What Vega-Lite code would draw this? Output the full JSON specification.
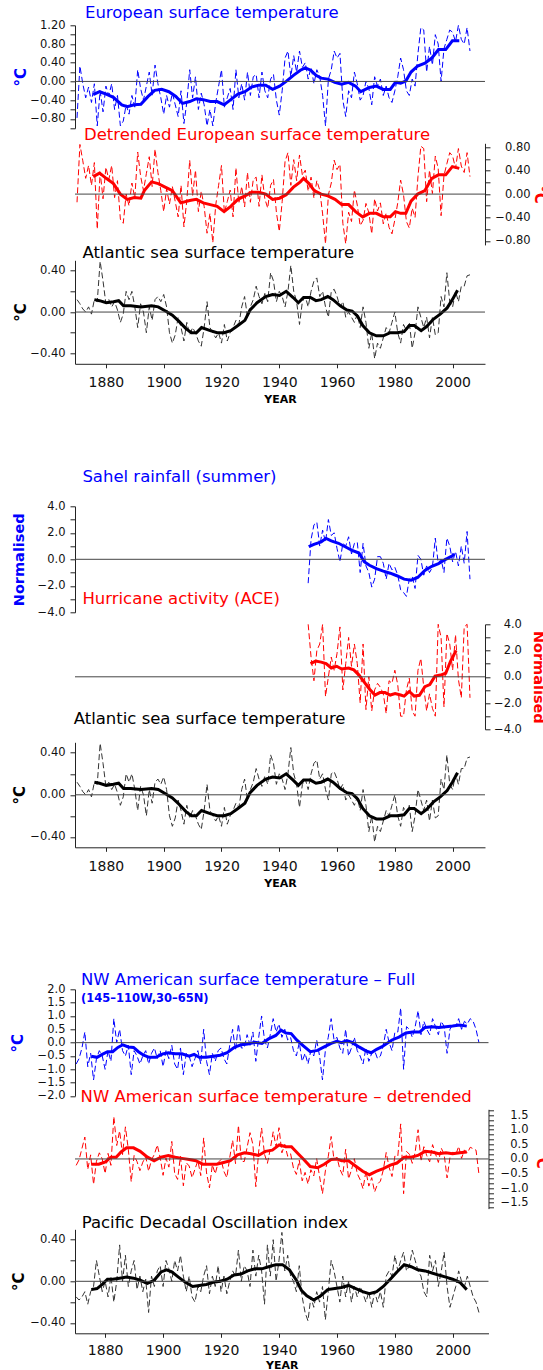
{
"$schema":"https://vega.github.io/schema/vega-lite/v6.json",
"padding":{"left":10,"top":5.3,"right":0,"bottom":0},
"background":"white",
"config":{
 "view":{"stroke":null},
 "axis":{"labelFont":"DejaVu Sans","labelFontSize":11.5,"labelColor":"#111","titleFont":"DejaVu Sans","titleFontWeight":"bold","titleFontSize":15,"domainColor":"#222","tickColor":"#222","tickSize":5,"labelPadding":5,"titlePadding":2,"grid":false,"labelOverlap":false,"labelFlush":false,"labelBound":false,"tickCount":60}
 ,"title":{"anchor":"start","frame":"group","font":"DejaVu Sans","fontSize":16.5,"fontWeight":"normal","offset":0}
},
"datasets":{
"zero":[{"v":0}],
"none":[],
"eu_a":[{"t":1870,"v":-0.78},{"t":1871,"v":0.33},{"t":1872,"v":-0.05},{"t":1873,"v":-0.35},{"t":1874,"v":-0.12},{"t":1875,"v":-0.45},{"t":1876,"v":-0.05},{"t":1877,"v":-0.95},{"t":1878,"v":-0.2},{"t":1879,"v":-0.65},{"t":1880,"v":-0.1},{"t":1881,"v":-0.3},{"t":1882,"v":-0.05},{"t":1883,"v":-0.6},{"t":1884,"v":-0.3},{"t":1885,"v":-0.95},{"t":1886,"v":-0.85},{"t":1887,"v":-0.5},{"t":1888,"v":-0.7},{"t":1889,"v":-0.3},{"t":1890,"v":-0.55},{"t":1891,"v":0.25},{"t":1892,"v":-0.15},{"t":1893,"v":-0.4},{"t":1894,"v":-0.1},{"t":1895,"v":0.2},{"t":1896,"v":-0.3},{"t":1897,"v":0.35},{"t":1898,"v":-0.05},{"t":1899,"v":-0.35},{"t":1900,"v":-0.7},{"t":1901,"v":-0.3},{"t":1902,"v":-0.55},{"t":1903,"v":-0.25},{"t":1904,"v":-0.5},{"t":1905,"v":-0.75},{"t":1906,"v":-0.2},{"t":1907,"v":-0.9},{"t":1908,"v":-0.45},{"t":1909,"v":0.25},{"t":1910,"v":-0.35},{"t":1911,"v":0.1},{"t":1912,"v":-0.6},{"t":1913,"v":-0.25},{"t":1914,"v":-0.5},{"t":1915,"v":-0.95},{"t":1916,"v":-0.6},{"t":1917,"v":-0.95},{"t":1918,"v":-0.45},{"t":1919,"v":-0.1},{"t":1920,"v":0.25},{"t":1921,"v":-0.55},{"t":1922,"v":-0.35},{"t":1923,"v":-0.15},{"t":1924,"v":-0.6},{"t":1925,"v":0.25},{"t":1926,"v":-0.35},{"t":1927,"v":-0.05},{"t":1928,"v":-0.4},{"t":1929,"v":0.2},{"t":1930,"v":-0.3},{"t":1931,"v":0.1},{"t":1932,"v":0.15},{"t":1933,"v":-0.35},{"t":1934,"v":0.2},{"t":1935,"v":-0.2},{"t":1936,"v":-0.35},{"t":1937,"v":0.05},{"t":1938,"v":0.15},{"t":1939,"v":-0.4},{"t":1940,"v":-0.72},{"t":1941,"v":-0.2},{"t":1942,"v":0.5},{"t":1943,"v":0.65},{"t":1944,"v":0.1},{"t":1945,"v":0.55},{"t":1946,"v":0.2},{"t":1947,"v":0.65},{"t":1948,"v":0.3},{"t":1949,"v":0.4},{"t":1950,"v":0.05},{"t":1951,"v":0.3},{"t":1952,"v":-0.05},{"t":1953,"v":0.25},{"t":1954,"v":0.1},{"t":1955,"v":-0.3},{"t":1956,"v":-0.95},{"t":1957,"v":0.05},{"t":1958,"v":0.25},{"t":1959,"v":0.65},{"t":1960,"v":0.5},{"t":1961,"v":0.6},{"t":1962,"v":-0.4},{"t":1963,"v":-0.75},{"t":1964,"v":-0.2},{"t":1965,"v":-0.35},{"t":1966,"v":0.2},{"t":1967,"v":-0.05},{"t":1968,"v":-0.4},{"t":1969,"v":-0.3},{"t":1970,"v":0.0},{"t":1971,"v":-0.15},{"t":1972,"v":-0.5},{"t":1973,"v":0.1},{"t":1974,"v":-0.1},{"t":1975,"v":0.05},{"t":1976,"v":-0.3},{"t":1977,"v":-0.1},{"t":1978,"v":-0.35},{"t":1979,"v":-0.45},{"t":1980,"v":-0.2},{"t":1981,"v":0.1},{"t":1982,"v":0.5},{"t":1983,"v":0.25},{"t":1984,"v":-0.2},{"t":1985,"v":-0.3},{"t":1986,"v":0.05},{"t":1987,"v":-0.1},{"t":1988,"v":0.6},{"t":1989,"v":1.15},{"t":1990,"v":1.1},{"t":1991,"v":0.2},{"t":1992,"v":0.75},{"t":1993,"v":0.35},{"t":1994,"v":1.0},{"t":1995,"v":0.8},{"t":1996,"v":0.0},{"t":1997,"v":0.7},{"t":1998,"v":0.9},{"t":1999,"v":1.1},{"t":2000,"v":1.05},{"t":2001,"v":0.85},{"t":2002,"v":1.2},{"t":2003,"v":0.9},{"t":2004,"v":0.8},{"t":2005,"v":1.15},{"t":2006,"v":0.65}],
"eu_s":[{"t":1875.6,"v":-0.28},{"t":1877.8,"v":-0.22},{"t":1880.1,"v":-0.27},{"t":1882.6,"v":-0.34},{"t":1885.5,"v":-0.5},{"t":1887.4,"v":-0.54},{"t":1889.8,"v":-0.5},{"t":1892.1,"v":-0.49},{"t":1894.6,"v":-0.32},{"t":1896.9,"v":-0.19},{"t":1899.3,"v":-0.17},{"t":1901.8,"v":-0.22},{"t":1904.2,"v":-0.32},{"t":1906.5,"v":-0.47},{"t":1909.0,"v":-0.43},{"t":1911.3,"v":-0.37},{"t":1913.7,"v":-0.39},{"t":1916.1,"v":-0.43},{"t":1918.5,"v":-0.43},{"t":1920.9,"v":-0.5},{"t":1923.2,"v":-0.39},{"t":1925.7,"v":-0.27},{"t":1928.1,"v":-0.22},{"t":1930.4,"v":-0.12},{"t":1932.9,"v":-0.08},{"t":1935.3,"v":-0.08},{"t":1937.7,"v":-0.17},{"t":1940.1,"v":-0.1},{"t":1942.4,"v":0},{"t":1944.9,"v":0.13},{"t":1947.3,"v":0.24},{"t":1949.0,"v":0.29},{"t":1950.9,"v":0.24},{"t":1952.7,"v":0.13},{"t":1954.5,"v":0.07},{"t":1956.8,"v":0.05},{"t":1959.2,"v":-0.02},{"t":1961.6,"v":-0.06},{"t":1964.0,"v":-0.02},{"t":1966.4,"v":-0.1},{"t":1968.2,"v":-0.22},{"t":1971.2,"v":-0.13},{"t":1973.6,"v":-0.1},{"t":1976.0,"v":-0.17},{"t":1978.4,"v":-0.17},{"t":1980.2,"v":-0.02},{"t":1982.0,"v":-0.04},{"t":1983.8,"v":0.01},{"t":1985.6,"v":0.2},{"t":1987.9,"v":0.33},{"t":1990.4,"v":0.39},{"t":1992.8,"v":0.5},{"t":1995.1,"v":0.68},{"t":1997.6,"v":0.68},{"t":1999.9,"v":0.87},{"t":2002.3,"v":0.87}],
"ed_a":[{"t":1870,"v":-0.14},{"t":1871,"v":0.85},{"t":1872,"v":0.57},{"t":1873,"v":0.27},{"t":1874,"v":0.49},{"t":1875,"v":0.15},{"t":1876,"v":0.54},{"t":1877,"v":-0.6},{"t":1878,"v":0.38},{"t":1879,"v":-0.08},{"t":1880,"v":0.46},{"t":1881,"v":0.25},{"t":1882,"v":0.49},{"t":1883,"v":-0.06},{"t":1884,"v":0.23},{"t":1885,"v":-0.43},{"t":1886,"v":-0.5},{"t":1887,"v":0.0},{"t":1888,"v":-0.2},{"t":1889,"v":0.19},{"t":1890,"v":-0.07},{"t":1891,"v":0.72},{"t":1892,"v":0.31},{"t":1893,"v":0.06},{"t":1894,"v":0.35},{"t":1895,"v":0.64},{"t":1896,"v":0.13},{"t":1897,"v":0.77},{"t":1898,"v":0.37},{"t":1899,"v":0.06},{"t":1900,"v":-0.3},{"t":1901,"v":0.09},{"t":1902,"v":-0.17},{"t":1903,"v":0.13},{"t":1904,"v":-0.13},{"t":1905,"v":-0.39},{"t":1906,"v":0.15},{"t":1907,"v":-0.56},{"t":1908,"v":-0.11},{"t":1909,"v":0.58},{"t":1910,"v":-0.03},{"t":1911,"v":0.41},{"t":1912,"v":-0.3},{"t":1913,"v":0.05},{"t":1914,"v":-0.21},{"t":1915,"v":-0.67},{"t":1916,"v":-0.33},{"t":1917,"v":-0.83},{"t":1918,"v":-0.19},{"t":1919,"v":0.15},{"t":1920,"v":0.49},{"t":1921,"v":-0.32},{"t":1922,"v":-0.13},{"t":1923,"v":0.07},{"t":1924,"v":-0.39},{"t":1925,"v":0.45},{"t":1926,"v":-0.16},{"t":1927,"v":0.13},{"t":1928,"v":-0.22},{"t":1929,"v":0.37},{"t":1930,"v":-0.14},{"t":1931,"v":0.25},{"t":1932,"v":0.29},{"t":1933,"v":-0.21},{"t":1934,"v":0.33},{"t":1935,"v":-0.08},{"t":1936,"v":-0.24},{"t":1937,"v":0.15},{"t":1938,"v":0.25},{"t":1939,"v":-0.31},{"t":1940,"v":-0.64},{"t":1941,"v":-0.13},{"t":1942,"v":0.56},{"t":1943,"v":0.71},{"t":1944,"v":0.15},{"t":1945,"v":0.59},{"t":1946,"v":0.23},{"t":1947,"v":0.67},{"t":1948,"v":0.32},{"t":1949,"v":0.41},{"t":1950,"v":0.05},{"t":1951,"v":0.29},{"t":1952,"v":-0.07},{"t":1953,"v":0.23},{"t":1954,"v":0.07},{"t":1955,"v":-0.34},{"t":1956,"v":-0.85},{"t":1957,"v":-0.01},{"t":1958,"v":0.19},{"t":1959,"v":0.58},{"t":1960,"v":0.42},{"t":1961,"v":0.51},{"t":1962,"v":-0.5},{"t":1963,"v":-0.85},{"t":1964,"v":-0.31},{"t":1965,"v":-0.47},{"t":1966,"v":0.07},{"t":1967,"v":-0.19},{"t":1968,"v":-0.54},{"t":1969,"v":-0.45},{"t":1970,"v":-0.16},{"t":1971,"v":-0.32},{"t":1972,"v":-0.68},{"t":1973,"v":-0.08},{"t":1974,"v":-0.29},{"t":1975,"v":-0.15},{"t":1976,"v":-0.51},{"t":1977,"v":-0.32},{"t":1978,"v":-0.57},{"t":1979,"v":-0.68},{"t":1980,"v":-0.44},{"t":1981,"v":-0.15},{"t":1982,"v":0.24},{"t":1983,"v":-0.01},{"t":1984,"v":-0.47},{"t":1985,"v":-0.58},{"t":1986,"v":-0.24},{"t":1987,"v":-0.4},{"t":1988,"v":0.3},{"t":1989,"v":0.82},{"t":1990,"v":0.78},{"t":1991,"v":-0.13},{"t":1992,"v":0.41},{"t":1993,"v":0.01},{"t":1994,"v":0.65},{"t":1995,"v":0.44},{"t":1996,"v":-0.37},{"t":1997,"v":0.32},{"t":1998,"v":0.52},{"t":1999,"v":0.71},{"t":2000,"v":0.65},{"t":2001,"v":0.44},{"t":2002,"v":0.78},{"t":2003,"v":0.48},{"t":2004,"v":0.37},{"t":2005,"v":0.71},{"t":2006,"v":0.3}],
"ed_s":[{"t":1875.6,"v":0.3},{"t":1877.8,"v":0.36},{"t":1880.1,"v":0.27},{"t":1882.6,"v":0.18},{"t":1885.0,"v":0},{"t":1887.4,"v":-0.09},{"t":1889.8,"v":-0.06},{"t":1892.1,"v":-0.07},{"t":1893.3,"v":0.06},{"t":1895.8,"v":0.21},{"t":1898.1,"v":0.18},{"t":1900.5,"v":0.12},{"t":1903.0,"v":0.06},{"t":1905.9,"v":-0.15},{"t":1909.0,"v":-0.11},{"t":1911.3,"v":-0.09},{"t":1913.7,"v":-0.15},{"t":1916.1,"v":-0.18},{"t":1918.5,"v":-0.21},{"t":1920.9,"v":-0.3},{"t":1923.2,"v":-0.21},{"t":1925.7,"v":-0.09},{"t":1928.1,"v":-0.03},{"t":1930.4,"v":0.03},{"t":1932.9,"v":0.03},{"t":1935.3,"v":0},{"t":1937.7,"v":-0.09},{"t":1940.1,"v":-0.07},{"t":1942.4,"v":-0.01},{"t":1944.9,"v":0.12},{"t":1947.3,"v":0.21},{"t":1948.4,"v":0.27},{"t":1950.3,"v":0.18},{"t":1952.1,"v":0.06},{"t":1954.5,"v":0},{"t":1956.8,"v":-0.03},{"t":1959.3,"v":-0.09},{"t":1961.6,"v":-0.18},{"t":1964.0,"v":-0.18},{"t":1966.4,"v":-0.3},{"t":1968.9,"v":-0.39},{"t":1971.2,"v":-0.33},{"t":1973.6,"v":-0.33},{"t":1976.0,"v":-0.39},{"t":1978.4,"v":-0.39},{"t":1980.2,"v":-0.3},{"t":1982.0,"v":-0.33},{"t":1983.8,"v":-0.33},{"t":1985.6,"v":-0.12},{"t":1987.9,"v":0},{"t":1990.4,"v":0.06},{"t":1992.8,"v":0.27},{"t":1995.1,"v":0.33},{"t":1997.6,"v":0.33},{"t":1999.9,"v":0.47},{"t":2002.3,"v":0.44}],
"at_a":[{"t":1870,"v":0.12},{"t":1871,"v":0.08},{"t":1872,"v":0.03},{"t":1873,"v":0.0},{"t":1874,"v":0.05},{"t":1875,"v":-0.02},{"t":1876,"v":0.12},{"t":1877,"v":0.1},{"t":1878,"v":0.49},{"t":1879,"v":0.3},{"t":1880,"v":0.08},{"t":1881,"v":0.12},{"t":1882,"v":0.05},{"t":1883,"v":0.1},{"t":1884,"v":0.02},{"t":1885,"v":-0.1},{"t":1886,"v":-0.02},{"t":1887,"v":0.2},{"t":1888,"v":0.12},{"t":1889,"v":0.2},{"t":1890,"v":0.05},{"t":1891,"v":-0.15},{"t":1892,"v":0.08},{"t":1893,"v":0.0},{"t":1894,"v":-0.2},{"t":1895,"v":0.05},{"t":1896,"v":-0.08},{"t":1897,"v":0.12},{"t":1898,"v":0.15},{"t":1899,"v":0.1},{"t":1900,"v":0.17},{"t":1901,"v":0.05},{"t":1902,"v":-0.2},{"t":1903,"v":-0.3},{"t":1904,"v":-0.22},{"t":1905,"v":-0.05},{"t":1906,"v":-0.15},{"t":1907,"v":-0.28},{"t":1908,"v":-0.1},{"t":1909,"v":-0.22},{"t":1910,"v":-0.15},{"t":1911,"v":-0.2},{"t":1912,"v":-0.28},{"t":1913,"v":-0.33},{"t":1914,"v":-0.15},{"t":1915,"v":0.1},{"t":1916,"v":-0.15},{"t":1917,"v":-0.2},{"t":1918,"v":-0.25},{"t":1919,"v":-0.2},{"t":1920,"v":-0.3},{"t":1921,"v":-0.12},{"t":1922,"v":-0.28},{"t":1923,"v":-0.2},{"t":1924,"v":-0.15},{"t":1925,"v":-0.08},{"t":1926,"v":-0.12},{"t":1927,"v":0.05},{"t":1928,"v":0.15},{"t":1929,"v":-0.05},{"t":1930,"v":0.05},{"t":1931,"v":0.12},{"t":1932,"v":0.25},{"t":1933,"v":0.15},{"t":1934,"v":0.08},{"t":1935,"v":0.18},{"t":1936,"v":0.1},{"t":1937,"v":0.38},{"t":1938,"v":0.3},{"t":1939,"v":0.1},{"t":1940,"v":0.2},{"t":1941,"v":0.15},{"t":1942,"v":0.05},{"t":1943,"v":0.2},{"t":1944,"v":0.45},{"t":1945,"v":0.2},{"t":1946,"v":0.1},{"t":1947,"v":-0.12},{"t":1948,"v":0.1},{"t":1949,"v":0.15},{"t":1950,"v":0.05},{"t":1951,"v":0.2},{"t":1952,"v":0.3},{"t":1953,"v":0.33},{"t":1954,"v":0.15},{"t":1955,"v":0.2},{"t":1956,"v":0.05},{"t":1957,"v":-0.05},{"t":1958,"v":0.2},{"t":1959,"v":0.22},{"t":1960,"v":0.15},{"t":1961,"v":0.05},{"t":1962,"v":0.1},{"t":1963,"v":-0.05},{"t":1964,"v":0.0},{"t":1965,"v":-0.05},{"t":1966,"v":-0.1},{"t":1967,"v":-0.02},{"t":1968,"v":-0.15},{"t":1969,"v":0.05},{"t":1970,"v":-0.1},{"t":1971,"v":-0.35},{"t":1972,"v":-0.2},{"t":1973,"v":-0.45},{"t":1974,"v":-0.3},{"t":1975,"v":-0.35},{"t":1976,"v":-0.25},{"t":1977,"v":-0.15},{"t":1978,"v":-0.2},{"t":1979,"v":-0.1},{"t":1980,"v":0.0},{"t":1981,"v":-0.2},{"t":1982,"v":-0.3},{"t":1983,"v":-0.12},{"t":1984,"v":-0.18},{"t":1985,"v":-0.1},{"t":1986,"v":-0.35},{"t":1987,"v":-0.2},{"t":1988,"v":0.05},{"t":1989,"v":-0.05},{"t":1990,"v":-0.15},{"t":1991,"v":-0.05},{"t":1992,"v":-0.25},{"t":1993,"v":-0.05},{"t":1994,"v":-0.22},{"t":1995,"v":-0.2},{"t":1996,"v":0.15},{"t":1997,"v":0.05},{"t":1998,"v":0.38},{"t":1999,"v":0.1},{"t":2000,"v":0.05},{"t":2001,"v":0.2},{"t":2002,"v":0.1},{"t":2003,"v":0.25},{"t":2004,"v":0.25},{"t":2005,"v":0.35},{"t":2006,"v":0.36}],
"at_s":[{"t":1876.0,"v":0.12},{"t":1877.8,"v":0.11},{"t":1880.1,"v":0.09},{"t":1882.6,"v":0.1},{"t":1884.4,"v":0.11},{"t":1886.1,"v":0.06},{"t":1888.6,"v":0.06},{"t":1892.1,"v":0.05},{"t":1895.8,"v":0.06},{"t":1898.1,"v":0.05},{"t":1900.6,"v":0.01},{"t":1903.0,"v":-0.03},{"t":1905.3,"v":-0.09},{"t":1907.7,"v":-0.16},{"t":1909.6,"v":-0.2},{"t":1911.3,"v":-0.2},{"t":1913.1,"v":-0.15},{"t":1916.1,"v":-0.18},{"t":1918.5,"v":-0.2},{"t":1920.9,"v":-0.2},{"t":1923.2,"v":-0.18},{"t":1925.7,"v":-0.13},{"t":1928.1,"v":-0.08},{"t":1929.9,"v":0.02},{"t":1932.3,"v":0.09},{"t":1935.3,"v":0.15},{"t":1937.7,"v":0.17},{"t":1940.1,"v":0.16},{"t":1942.4,"v":0.2},{"t":1944.8,"v":0.14},{"t":1946.6,"v":0.09},{"t":1948.4,"v":0.14},{"t":1950.8,"v":0.14},{"t":1952.7,"v":0.11},{"t":1954.5,"v":0.12},{"t":1956.8,"v":0.15},{"t":1958.6,"v":0.12},{"t":1961.1,"v":0.06},{"t":1963.4,"v":0.02},{"t":1965.2,"v":0.01},{"t":1967.1,"v":-0.04},{"t":1968.9,"v":-0.13},{"t":1971.2,"v":-0.2},{"t":1973.6,"v":-0.23},{"t":1976.0,"v":-0.23},{"t":1978.4,"v":-0.2},{"t":1980.7,"v":-0.2},{"t":1983.2,"v":-0.19},{"t":1985.0,"v":-0.13},{"t":1986.7,"v":-0.13},{"t":1989.1,"v":-0.18},{"t":1991.0,"v":-0.14},{"t":1993.3,"v":-0.07},{"t":1995.7,"v":-0.02},{"t":1998.1,"v":0.04},{"t":1999.9,"v":0.12},{"t":2001.7,"v":0.21}],
"sa_a":[{"t":1950,"v":-1.8},{"t":1951,"v":1.5},{"t":1952,"v":2.6},{"t":1953,"v":2.8},{"t":1954,"v":1.0},{"t":1955,"v":2.2},{"t":1956,"v":1.3},{"t":1957,"v":3.0},{"t":1958,"v":1.8},{"t":1959,"v":2.0},{"t":1960,"v":0.8},{"t":1961,"v":-0.2},{"t":1962,"v":1.2},{"t":1963,"v":1.0},{"t":1964,"v":1.7},{"t":1965,"v":0.4},{"t":1966,"v":1.2},{"t":1967,"v":1.3},{"t":1968,"v":-1.0},{"t":1969,"v":1.2},{"t":1970,"v":-0.5},{"t":1971,"v":-1.0},{"t":1972,"v":-2.1},{"t":1973,"v":-1.5},{"t":1974,"v":0.2},{"t":1975,"v":0.2},{"t":1976,"v":-0.3},{"t":1977,"v":-1.5},{"t":1978,"v":-0.3},{"t":1979,"v":-0.8},{"t":1980,"v":-0.6},{"t":1981,"v":-1.2},{"t":1982,"v":-2.3},{"t":1983,"v":-2.5},{"t":1984,"v":-2.8},{"t":1985,"v":-1.5},{"t":1986,"v":-1.3},{"t":1987,"v":-2.2},{"t":1988,"v":0.3},{"t":1989,"v":0.0},{"t":1990,"v":-1.2},{"t":1991,"v":-0.5},{"t":1992,"v":-1.0},{"t":1993,"v":-0.6},{"t":1994,"v":1.6},{"t":1995,"v":-0.3},{"t":1996,"v":0.0},{"t":1997,"v":-1.0},{"t":1998,"v":1.6},{"t":1999,"v":1.0},{"t":2000,"v":-0.2},{"t":2001,"v":0.6},{"t":2002,"v":-0.5},{"t":2003,"v":1.0},{"t":2004,"v":-0.3},{"t":2005,"v":2.1},{"t":2006,"v":-1.5}],
"sa_s":[{"t":1950.2,"v":0.95},{"t":1952.0,"v":1.13},{"t":1954.5,"v":1.32},{"t":1956.2,"v":1.58},{"t":1958.0,"v":1.39},{"t":1960.5,"v":1.21},{"t":1962.8,"v":0.95},{"t":1965.2,"v":0.68},{"t":1967.6,"v":0.47},{"t":1969.4,"v":-0.18},{"t":1971.2,"v":-0.45},{"t":1973.6,"v":-0.71},{"t":1976.0,"v":-0.89},{"t":1978.4,"v":-1.05},{"t":1980.7,"v":-1.24},{"t":1983.2,"v":-1.5},{"t":1985.6,"v":-1.58},{"t":1987.9,"v":-1.37},{"t":1990.4,"v":-0.84},{"t":1992.8,"v":-0.53},{"t":1995.1,"v":-0.32},{"t":1997.6,"v":0},{"t":1999.9,"v":0.26},{"t":2000.5,"v":0.42}],
"ac_a":[{"t":1950,"v":4.0},{"t":1951,"v":1.5},{"t":1952,"v":-0.3},{"t":1953,"v":2.0},{"t":1954,"v":2.5},{"t":1955,"v":4.0},{"t":1956,"v":-1.5},{"t":1957,"v":0.0},{"t":1958,"v":1.5},{"t":1959,"v":0.5},{"t":1960,"v":1.8},{"t":1961,"v":3.8},{"t":1962,"v":-1.0},{"t":1963,"v":1.0},{"t":1964,"v":3.0},{"t":1965,"v":0.8},{"t":1966,"v":2.5},{"t":1967,"v":1.0},{"t":1968,"v":-2.0},{"t":1969,"v":2.5},{"t":1970,"v":-2.5},{"t":1971,"v":0.0},{"t":1972,"v":-2.6},{"t":1973,"v":-1.0},{"t":1974,"v":-0.5},{"t":1975,"v":-0.8},{"t":1976,"v":-1.3},{"t":1977,"v":-2.8},{"t":1978,"v":-0.3},{"t":1979,"v":-0.5},{"t":1980,"v":0.5},{"t":1981,"v":-0.6},{"t":1982,"v":-3.0},{"t":1983,"v":-3.0},{"t":1984,"v":-1.0},{"t":1985,"v":-0.1},{"t":1986,"v":-2.6},{"t":1987,"v":-3.0},{"t":1988,"v":0.5},{"t":1989,"v":1.4},{"t":1990,"v":-0.8},{"t":1991,"v":-2.6},{"t":1992,"v":-1.3},{"t":1993,"v":-2.4},{"t":1994,"v":-3.0},{"t":1995,"v":4.0},{"t":1996,"v":3.0},{"t":1997,"v":-2.3},{"t":1998,"v":3.3},{"t":1999,"v":2.5},{"t":2000,"v":0.5},{"t":2001,"v":3.2},{"t":2002,"v":-0.2},{"t":2003,"v":-1.6},{"t":2004,"v":3.8},{"t":2005,"v":4.0},{"t":2006,"v":-1.6}],
"ac_s":[{"t":1950.8,"v":1.01},{"t":1952.6,"v":1.2},{"t":1954.5,"v":1.12},{"t":1956.2,"v":1.01},{"t":1958.0,"v":0.67},{"t":1959.9,"v":0.8},{"t":1961.6,"v":0.59},{"t":1964.0,"v":0.67},{"t":1965.8,"v":0.53},{"t":1967.6,"v":0.13},{"t":1969.4,"v":-0.4},{"t":1971.2,"v":-0.93},{"t":1973.1,"v":-1.39},{"t":1974.8,"v":-1.2},{"t":1976.6,"v":-1.2},{"t":1978.4,"v":-1.39},{"t":1980.1,"v":-1.28},{"t":1982.0,"v":-1.39},{"t":1983.2,"v":-1.47},{"t":1985.0,"v":-1.12},{"t":1986.7,"v":-1.47},{"t":1988.5,"v":-1.41},{"t":1990.4,"v":-0.75},{"t":1992.1,"v":-0.59},{"t":1993.9,"v":0.05},{"t":1995.8,"v":0.13},{"t":1997.6,"v":0.27},{"t":1999.3,"v":1.2},{"t":2001.2,"v":2.0}],
"nw_a":[{"t":1870,"v":-0.8},{"t":1871,"v":-0.6},{"t":1872,"v":-0.2},{"t":1873,"v":0.4},{"t":1874,"v":-0.9},{"t":1875,"v":-0.4},{"t":1876,"v":-1.4},{"t":1877,"v":-0.6},{"t":1878,"v":-0.3},{"t":1879,"v":-0.5},{"t":1880,"v":-1.0},{"t":1881,"v":-0.3},{"t":1882,"v":-0.7},{"t":1883,"v":0.9},{"t":1884,"v":0.0},{"t":1885,"v":0.5},{"t":1886,"v":-0.3},{"t":1887,"v":-0.5},{"t":1888,"v":-0.1},{"t":1889,"v":-1.2},{"t":1890,"v":-0.3},{"t":1891,"v":-0.5},{"t":1892,"v":-0.8},{"t":1893,"v":-0.5},{"t":1894,"v":-0.3},{"t":1895,"v":-0.8},{"t":1896,"v":-0.4},{"t":1897,"v":-0.2},{"t":1898,"v":-0.6},{"t":1899,"v":-0.3},{"t":1900,"v":-0.9},{"t":1901,"v":-0.3},{"t":1902,"v":-0.6},{"t":1903,"v":-0.1},{"t":1904,"v":-0.8},{"t":1905,"v":-1.0},{"t":1906,"v":-0.2},{"t":1907,"v":-1.2},{"t":1908,"v":-0.4},{"t":1909,"v":-0.5},{"t":1910,"v":-0.9},{"t":1911,"v":-0.6},{"t":1912,"v":-0.3},{"t":1913,"v":-0.8},{"t":1914,"v":0.5},{"t":1915,"v":-0.7},{"t":1916,"v":-1.2},{"t":1917,"v":-0.4},{"t":1918,"v":-0.7},{"t":1919,"v":-0.3},{"t":1920,"v":-0.2},{"t":1921,"v":-0.6},{"t":1922,"v":-0.8},{"t":1923,"v":-0.1},{"t":1924,"v":0.5},{"t":1925,"v":-0.3},{"t":1926,"v":0.7},{"t":1927,"v":-0.2},{"t":1928,"v":-0.2},{"t":1929,"v":0.3},{"t":1930,"v":-0.1},{"t":1931,"v":0.4},{"t":1932,"v":-0.7},{"t":1933,"v":0.2},{"t":1934,"v":1.0},{"t":1935,"v":0.1},{"t":1936,"v":-0.2},{"t":1937,"v":0.3},{"t":1938,"v":0.9},{"t":1939,"v":0.4},{"t":1940,"v":0.7},{"t":1941,"v":0.2},{"t":1942,"v":0.5},{"t":1943,"v":0.1},{"t":1944,"v":0.2},{"t":1945,"v":-0.3},{"t":1946,"v":-0.5},{"t":1947,"v":0.0},{"t":1948,"v":-0.7},{"t":1949,"v":-0.4},{"t":1950,"v":-0.8},{"t":1951,"v":-0.3},{"t":1952,"v":-0.5},{"t":1953,"v":0.1},{"t":1954,"v":-0.5},{"t":1955,"v":-1.4},{"t":1956,"v":-0.3},{"t":1957,"v":0.2},{"t":1958,"v":0.9},{"t":1959,"v":0.1},{"t":1960,"v":0.2},{"t":1961,"v":-0.2},{"t":1962,"v":-0.4},{"t":1963,"v":0.5},{"t":1964,"v":-0.5},{"t":1965,"v":-0.2},{"t":1966,"v":0.2},{"t":1967,"v":-0.3},{"t":1968,"v":-0.5},{"t":1969,"v":-0.8},{"t":1970,"v":-0.2},{"t":1971,"v":-0.7},{"t":1972,"v":-0.4},{"t":1973,"v":-0.3},{"t":1974,"v":-0.6},{"t":1975,"v":-0.5},{"t":1976,"v":-0.1},{"t":1977,"v":0.5},{"t":1978,"v":0.0},{"t":1979,"v":-0.3},{"t":1980,"v":0.4},{"t":1981,"v":0.4},{"t":1982,"v":1.3},{"t":1983,"v":-1.0},{"t":1984,"v":0.6},{"t":1985,"v":0.5},{"t":1986,"v":0.2},{"t":1987,"v":0.6},{"t":1988,"v":1.2},{"t":1989,"v":0.3},{"t":1990,"v":0.8},{"t":1991,"v":0.5},{"t":1992,"v":0.3},{"t":1993,"v":0.9},{"t":1994,"v":0.6},{"t":1995,"v":0.3},{"t":1996,"v":0.8},{"t":1997,"v":0.6},{"t":1998,"v":-0.4},{"t":1999,"v":0.5},{"t":2000,"v":0.7},{"t":2001,"v":0.6},{"t":2002,"v":0.9},{"t":2003,"v":0.5},{"t":2004,"v":0.8},{"t":2005,"v":0.7},{"t":2006,"v":0.9},{"t":2007,"v":0.8},{"t":2008,"v":0.5},{"t":2009,"v":0.0}],
"nw_s":[{"t":1875.2,"v":-0.51},{"t":1877.2,"v":-0.55},{"t":1879.0,"v":-0.44},{"t":1880.8,"v":-0.34},{"t":1882.6,"v":-0.34},{"t":1884.4,"v":-0.18},{"t":1886.1,"v":-0.08},{"t":1888.0,"v":-0.16},{"t":1889.8,"v":-0.18},{"t":1891.5,"v":-0.34},{"t":1893.3,"v":-0.47},{"t":1895.2,"v":-0.55},{"t":1897.5,"v":-0.55},{"t":1899.9,"v":-0.42},{"t":1901.8,"v":-0.38},{"t":1904.2,"v":-0.42},{"t":1906.5,"v":-0.42},{"t":1909.0,"v":-0.51},{"t":1910.7,"v":-0.44},{"t":1912.5,"v":-0.55},{"t":1914.9,"v":-0.55},{"t":1917.3,"v":-0.51},{"t":1919.7,"v":-0.47},{"t":1922.1,"v":-0.38},{"t":1924.5,"v":-0.18},{"t":1926.9,"v":-0.08},{"t":1929.2,"v":-0.05},{"t":1931.7,"v":0.01},{"t":1934.1,"v":-0.03},{"t":1936.4,"v":0.14},{"t":1938.9,"v":0.27},{"t":1940.7,"v":0.47},{"t":1942.4,"v":0.36},{"t":1944.2,"v":0.34},{"t":1946.1,"v":0.1},{"t":1948.4,"v":-0.12},{"t":1950.8,"v":-0.34},{"t":1953.3,"v":-0.29},{"t":1955.6,"v":-0.16},{"t":1958.0,"v":-0.03},{"t":1959.9,"v":0.05},{"t":1961.6,"v":0},{"t":1963.4,"v":0.08},{"t":1965.2,"v":0.01},{"t":1967.6,"v":-0.16},{"t":1970.0,"v":-0.31},{"t":1971.8,"v":-0.38},{"t":1973.7,"v":-0.25},{"t":1975.4,"v":-0.16},{"t":1977.2,"v":-0.03},{"t":1979.0,"v":0.1},{"t":1981.4,"v":0.21},{"t":1983.8,"v":0.36},{"t":1986.1,"v":0.4},{"t":1988.6,"v":0.4},{"t":1990.4,"v":0.57},{"t":1992.8,"v":0.6},{"t":1995.1,"v":0.57},{"t":1997.6,"v":0.6},{"t":1999.9,"v":0.62},{"t":2002.4,"v":0.66},{"t":2004.8,"v":0.62}],
"nd_a":[{"t":1870,"v":-0.22},{"t":1871,"v":-0.03},{"t":1872,"v":0.36},{"t":1873,"v":0.75},{"t":1874,"v":-0.36},{"t":1875,"v":0.14},{"t":1876,"v":-0.87},{"t":1877,"v":-0.08},{"t":1878,"v":0.21},{"t":1879,"v":0.0},{"t":1880,"v":-0.5},{"t":1881,"v":0.19},{"t":1882,"v":-0.22},{"t":1883,"v":1.45},{"t":1884,"v":0.46},{"t":1885,"v":0.96},{"t":1886,"v":0.15},{"t":1887,"v":1.1},{"t":1888,"v":0.33},{"t":1889,"v":-0.78},{"t":1890,"v":0.12},{"t":1891,"v":-0.09},{"t":1892,"v":-0.4},{"t":1893,"v":-0.11},{"t":1894,"v":0.08},{"t":1895,"v":-0.42},{"t":1896,"v":-0.03},{"t":1897,"v":0.16},{"t":1898,"v":0.48},{"t":1899,"v":0.04},{"t":1900,"v":-0.56},{"t":1901,"v":0.03},{"t":1902,"v":-0.28},{"t":1903,"v":0.6},{"t":1904,"v":-0.5},{"t":1905,"v":-0.7},{"t":1906,"v":0.09},{"t":1907,"v":-0.92},{"t":1908,"v":-0.13},{"t":1909,"v":-0.24},{"t":1910,"v":-0.64},{"t":1911,"v":-0.35},{"t":1912,"v":-0.06},{"t":1913,"v":-0.57},{"t":1914,"v":0.72},{"t":1915,"v":-0.48},{"t":1916,"v":-0.99},{"t":1917,"v":-0.2},{"t":1918,"v":-0.51},{"t":1919,"v":-0.12},{"t":1920,"v":-0.02},{"t":1921,"v":-0.43},{"t":1922,"v":-0.64},{"t":1923,"v":0.05},{"t":1924,"v":0.64},{"t":1925,"v":-0.16},{"t":1926,"v":1.15},{"t":1927,"v":-0.08},{"t":1928,"v":-0.09},{"t":1929,"v":0.4},{"t":1930,"v":0.9},{"t":1931,"v":0.49},{"t":1932,"v":-0.95},{"t":1933,"v":0.27},{"t":1934,"v":1.06},{"t":1935,"v":0.16},{"t":1936,"v":-0.15},{"t":1937,"v":0.34},{"t":1938,"v":0.93},{"t":1939,"v":0.42},{"t":1940,"v":1.07},{"t":1941,"v":0.21},{"t":1942,"v":0.5},{"t":1943,"v":0.09},{"t":1944,"v":0.18},{"t":1945,"v":-0.32},{"t":1946,"v":-0.53},{"t":1947,"v":-0.04},{"t":1948,"v":-0.75},{"t":1949,"v":-0.46},{"t":1950,"v":-0.86},{"t":1951,"v":-0.37},{"t":1952,"v":-0.58},{"t":1953,"v":0.01},{"t":1954,"v":-0.6},{"t":1955,"v":-1.19},{"t":1956,"v":-0.41},{"t":1957,"v":0.08},{"t":1958,"v":0.77},{"t":1959,"v":-0.04},{"t":1960,"v":0.06},{"t":1961,"v":-0.35},{"t":1962,"v":-0.56},{"t":1963,"v":0.33},{"t":1964,"v":-0.68},{"t":1965,"v":-0.38},{"t":1966,"v":0.01},{"t":1967,"v":-0.5},{"t":1968,"v":-0.71},{"t":1969,"v":-1.02},{"t":1970,"v":-0.42},{"t":1971,"v":-0.93},{"t":1972,"v":-0.64},{"t":1973,"v":-1.13},{"t":1974,"v":-0.86},{"t":1975,"v":-0.76},{"t":1976,"v":-0.37},{"t":1977,"v":0.22},{"t":1978,"v":-0.29},{"t":1979,"v":-0.6},{"t":1980,"v":0.1},{"t":1981,"v":0.09},{"t":1982,"v":1.2},{"t":1983,"v":-1.19},{"t":1984,"v":0.26},{"t":1985,"v":0.16},{"t":1986,"v":-0.15},{"t":1987,"v":0.24},{"t":1988,"v":1.0},{"t":1989,"v":-0.08},{"t":1990,"v":0.42},{"t":1991,"v":0.11},{"t":1992,"v":-0.1},{"t":1993,"v":0.49},{"t":1994,"v":0.18},{"t":1995,"v":-0.12},{"t":1996,"v":0.37},{"t":1997,"v":0.16},{"t":1998,"v":-0.65},{"t":1999,"v":0.05},{"t":2000,"v":0.24},{"t":2001,"v":0.14},{"t":2002,"v":0.43},{"t":2003,"v":0.02},{"t":2004,"v":0.31},{"t":2005,"v":0.2},{"t":2006,"v":0.4},{"t":2007,"v":0.35},{"t":2008,"v":0.3},{"t":2009,"v":-0.52}],
"nd_s":[{"t":1875.2,"v":-0.18},{"t":1877.8,"v":-0.18},{"t":1880.1,"v":-0.1},{"t":1882.0,"v":0.06},{"t":1883.8,"v":0.06},{"t":1885.5,"v":0.24},{"t":1887.4,"v":0.38},{"t":1889.8,"v":0.38},{"t":1892.1,"v":0.26},{"t":1894.6,"v":0.06},{"t":1896.9,"v":-0.06},{"t":1899.3,"v":0.06},{"t":1901.8,"v":0.12},{"t":1904.2,"v":0.06},{"t":1906.5,"v":0.02},{"t":1909.0,"v":-0.02},{"t":1911.3,"v":-0.06},{"t":1913.7,"v":-0.18},{"t":1916.1,"v":-0.18},{"t":1918.5,"v":-0.18},{"t":1920.9,"v":-0.12},{"t":1923.2,"v":-0.06},{"t":1925.7,"v":0.14},{"t":1928.1,"v":0.21},{"t":1930.4,"v":0.18},{"t":1932.9,"v":0.12},{"t":1935.3,"v":0.26},{"t":1937.7,"v":0.3},{"t":1940.1,"v":0.48},{"t":1942.4,"v":0.42},{"t":1944.3,"v":0.42},{"t":1946.6,"v":0.18},{"t":1948.4,"v":0},{"t":1950.8,"v":-0.26},{"t":1953.3,"v":-0.3},{"t":1955.6,"v":-0.18},{"t":1958.0,"v":-0.02},{"t":1959.9,"v":0},{"t":1961.6,"v":-0.06},{"t":1964.0,"v":-0.06},{"t":1966.4,"v":-0.24},{"t":1968.9,"v":-0.42},{"t":1971.2,"v":-0.54},{"t":1973.7,"v":-0.42},{"t":1976.0,"v":-0.33},{"t":1978.4,"v":-0.21},{"t":1980.7,"v":-0.14},{"t":1983.2,"v":0.06},{"t":1985.6,"v":0.06},{"t":1987.9,"v":0.12},{"t":1990.4,"v":0.26},{"t":1992.8,"v":0.24},{"t":1995.1,"v":0.18},{"t":1997.6,"v":0.21},{"t":1999.9,"v":0.18},{"t":2002.4,"v":0.21},{"t":2004.8,"v":0.24}],
"pd_a":[{"t":1870,"v":-0.15},{"t":1871,"v":-0.18},{"t":1872,"v":-0.15},{"t":1873,"v":-0.1},{"t":1874,"v":-0.22},{"t":1875,"v":-0.1},{"t":1876,"v":-0.05},{"t":1877,"v":0.2},{"t":1878,"v":0.05},{"t":1879,"v":-0.1},{"t":1880,"v":0.0},{"t":1881,"v":-0.15},{"t":1882,"v":0.05},{"t":1883,"v":-0.2},{"t":1884,"v":0.0},{"t":1885,"v":0.35},{"t":1886,"v":0.0},{"t":1887,"v":0.25},{"t":1888,"v":-0.05},{"t":1889,"v":0.1},{"t":1890,"v":0.2},{"t":1891,"v":-0.08},{"t":1892,"v":0.05},{"t":1893,"v":-0.1},{"t":1894,"v":0.02},{"t":1895,"v":-0.3},{"t":1896,"v":0.05},{"t":1897,"v":-0.05},{"t":1898,"v":0.1},{"t":1899,"v":0.15},{"t":1900,"v":-0.05},{"t":1901,"v":0.2},{"t":1902,"v":0.12},{"t":1903,"v":0.0},{"t":1904,"v":0.2},{"t":1905,"v":0.1},{"t":1906,"v":0.25},{"t":1907,"v":0.05},{"t":1908,"v":-0.1},{"t":1909,"v":0.05},{"t":1910,"v":-0.15},{"t":1911,"v":-0.2},{"t":1912,"v":-0.05},{"t":1913,"v":-0.1},{"t":1914,"v":0.05},{"t":1915,"v":0.15},{"t":1916,"v":-0.12},{"t":1917,"v":0.05},{"t":1918,"v":-0.05},{"t":1919,"v":0.15},{"t":1920,"v":-0.1},{"t":1921,"v":0.05},{"t":1922,"v":-0.12},{"t":1923,"v":0.0},{"t":1924,"v":0.1},{"t":1925,"v":0.05},{"t":1926,"v":0.3},{"t":1927,"v":0.0},{"t":1928,"v":0.15},{"t":1929,"v":0.1},{"t":1930,"v":-0.05},{"t":1931,"v":0.3},{"t":1932,"v":0.05},{"t":1933,"v":0.25},{"t":1934,"v":0.1},{"t":1935,"v":-0.22},{"t":1936,"v":0.35},{"t":1937,"v":0.05},{"t":1938,"v":0.4},{"t":1939,"v":0.0},{"t":1940,"v":0.2},{"t":1941,"v":0.47},{"t":1942,"v":0.1},{"t":1943,"v":0.25},{"t":1944,"v":0.05},{"t":1945,"v":0.0},{"t":1946,"v":-0.1},{"t":1947,"v":0.15},{"t":1948,"v":-0.15},{"t":1949,"v":-0.3},{"t":1950,"v":-0.38},{"t":1951,"v":-0.15},{"t":1952,"v":-0.25},{"t":1953,"v":-0.1},{"t":1954,"v":-0.2},{"t":1955,"v":-0.05},{"t":1956,"v":-0.37},{"t":1957,"v":-0.1},{"t":1958,"v":0.2},{"t":1959,"v":0.1},{"t":1960,"v":-0.05},{"t":1961,"v":-0.2},{"t":1962,"v":0.05},{"t":1963,"v":-0.15},{"t":1964,"v":0.0},{"t":1965,"v":-0.2},{"t":1966,"v":-0.05},{"t":1967,"v":-0.15},{"t":1968,"v":-0.05},{"t":1969,"v":-0.12},{"t":1970,"v":-0.2},{"t":1971,"v":-0.1},{"t":1972,"v":-0.25},{"t":1973,"v":-0.1},{"t":1974,"v":-0.2},{"t":1975,"v":-0.1},{"t":1976,"v":-0.25},{"t":1977,"v":0.05},{"t":1978,"v":0.1},{"t":1979,"v":0.05},{"t":1980,"v":0.25},{"t":1981,"v":0.1},{"t":1982,"v":0.2},{"t":1983,"v":0.28},{"t":1984,"v":0.1},{"t":1985,"v":0.15},{"t":1986,"v":0.3},{"t":1987,"v":0.2},{"t":1988,"v":0.1},{"t":1989,"v":0.05},{"t":1990,"v":-0.1},{"t":1991,"v":-0.15},{"t":1992,"v":0.25},{"t":1993,"v":0.1},{"t":1994,"v":0.2},{"t":1995,"v":-0.05},{"t":1996,"v":0.1},{"t":1997,"v":0.28},{"t":1998,"v":-0.05},{"t":1999,"v":-0.25},{"t":2000,"v":-0.15},{"t":2001,"v":-0.05},{"t":2002,"v":0.1},{"t":2003,"v":0.0},{"t":2004,"v":-0.05},{"t":2005,"v":0.05},{"t":2006,"v":-0.05},{"t":2007,"v":-0.15},{"t":2008,"v":-0.2},{"t":2009,"v":-0.3}],
"pd_s":[{"t":1875.2,"v":-0.08},{"t":1877.2,"v":-0.07},{"t":1879.0,"v":-0.03},{"t":1880.8,"v":0.02},{"t":1882.6,"v":0.02},{"t":1885.0,"v":0.03},{"t":1887.4,"v":0.04},{"t":1889.8,"v":0.03},{"t":1892.1,"v":0.01},{"t":1894.6,"v":-0.02},{"t":1896.9,"v":0.01},{"t":1899.3,"v":0.09},{"t":1901.2,"v":0.11},{"t":1903.0,"v":0.09},{"t":1905.3,"v":0.04},{"t":1907.7,"v":-0.01},{"t":1910.2,"v":-0.05},{"t":1912.5,"v":-0.04},{"t":1914.9,"v":-0.03},{"t":1917.3,"v":-0.01},{"t":1919.7,"v":0},{"t":1922.1,"v":0.02},{"t":1924.5,"v":0.06},{"t":1926.9,"v":0.07},{"t":1929.2,"v":0.1},{"t":1931.7,"v":0.12},{"t":1934.1,"v":0.12},{"t":1936.4,"v":0.14},{"t":1938.9,"v":0.16},{"t":1941.2,"v":0.16},{"t":1943.6,"v":0.11},{"t":1946.0,"v":0.01},{"t":1947.8,"v":-0.09},{"t":1949.6,"v":-0.14},{"t":1952.0,"v":-0.18},{"t":1954.4,"v":-0.14},{"t":1956.8,"v":-0.08},{"t":1959.3,"v":-0.07},{"t":1961.6,"v":-0.06},{"t":1964.0,"v":-0.04},{"t":1966.5,"v":-0.07},{"t":1968.9,"v":-0.1},{"t":1971.2,"v":-0.12},{"t":1973.7,"v":-0.1},{"t":1976.0,"v":-0.05},{"t":1978.4,"v":0.02},{"t":1980.7,"v":0.09},{"t":1983.2,"v":0.16},{"t":1985.6,"v":0.14},{"t":1987.9,"v":0.11},{"t":1990.4,"v":0.1},{"t":1992.8,"v":0.08},{"t":1995.1,"v":0.06},{"t":1997.6,"v":0.04},{"t":1999.9,"v":0.02},{"t":2002.4,"v":-0.01},{"t":2004.8,"v":-0.08}]
},
"bounds":"flush",
"spacing":0,
"vconcat":[
 {"width":410,"height":102.9,
  "title":{"text":"European surface temperature","color":"#0000ff","dx":10,"offset":-2.7},
  "layer":[
   {"data":{"name":"eu_a"},"mark":{"type":"line","color":"#0000ff","strokeWidth":1,"strokeDash":[6,3]},"encoding":{"x":{"field":"t","type":"quantitative","scale":{"domain":[1869.3,2011.2],"nice":false,"zero":false},"axis":null},"y":{"field":"v","type":"quantitative","scale":{"domain":[-1,1.2],"nice":false,"zero":false},"axis":{"orient":"left","values":[-1,-0.8,-0.6,-0.4,-0.2,0,0.2,0.4,0.6,0.8,1,1.2],"tickCount":60,"format":".2f","labelExpr":"round(datum.value*10)%4==0 ? datum.label : ''","labelOverlap":false,"title":"°C","titleColor":"#0000ff","titlePadding":1}}}},
   {"data":{"name":"eu_s"},"mark":{"type":"line","color":"#0000ff","strokeWidth":3},"encoding":{"x":{"field":"t","type":"quantitative","scale":{"domain":[1869.3,2011.2],"nice":false,"zero":false},"axis":null},"y":{"field":"v","type":"quantitative","scale":{"domain":[-1,1.2],"nice":false,"zero":false}}}},
   {"data":{"name":"zero"},"mark":{"type":"rule","color":"#444","strokeWidth":1},"encoding":{"y":{"field":"v","type":"quantitative","scale":{"domain":[-1,1.2],"nice":false,"zero":false}}}}
  ]},
 {"width":410,"height":14.8,"data":{"name":"none"},"mark":"point"},
 {"width":410,"height":101.6,
  "title":{"text":"Detrended European surface temperature","color":"#ff0000","dx":9,"offset":-1.9},
  "layer":[
   {"data":{"name":"ed_a"},"mark":{"type":"line","color":"#ff0000","strokeWidth":1,"strokeDash":[6,3]},"encoding":{"x":{"field":"t","type":"quantitative","scale":{"domain":[1869.3,2011.2],"nice":false,"zero":false},"axis":null},"y":{"field":"v","type":"quantitative","scale":{"domain":[-0.87,0.87],"nice":false,"zero":false},"axis":{"orient":"right","values":[-0.8,-0.6,-0.4,-0.2,0,0.2,0.4,0.6,0.8],"tickCount":60,"format":".2f","labelExpr":"round(datum.value*10)%4==0 ? datum.label : ''","labelOverlap":false,"labelAlign":"right","labelPadding":40,"title":"°C","titleColor":"#ff0000","titlePadding":2}}}},
   {"data":{"name":"ed_s"},"mark":{"type":"line","color":"#ff0000","strokeWidth":3},"encoding":{"x":{"field":"t","type":"quantitative","scale":{"domain":[1869.3,2011.2],"nice":false,"zero":false},"axis":null},"y":{"field":"v","type":"quantitative","scale":{"domain":[-0.87,0.87],"nice":false,"zero":false}}}},
   {"data":{"name":"zero"},"mark":{"type":"rule","color":"#444","strokeWidth":1},"encoding":{"y":{"field":"v","type":"quantitative","scale":{"domain":[-0.87,0.87],"nice":false,"zero":false}}}}
  ]},
 {"width":410,"height":14.9,"data":{"name":"none"},"mark":"point"},
 {"width":410,"height":103.5,
  "title":{"text":"Atlantic sea surface temperature","color":"#000000","dx":7.4,"offset":-1.9},
  "layer":[
   {"data":{"name":"at_a"},"mark":{"type":"line","color":"#333333","strokeWidth":1,"strokeDash":[6,3]},"encoding":{"x":{"field":"t","type":"quantitative","scale":{"domain":[1869.3,2011.2],"nice":false,"zero":false},"axis":{"orient":"bottom","values":[1880,1900,1920,1940,1960,1980,2000],"tickCount":60,"format":"d","labelFontSize":14,"labelOverlap":false,"title":"YEAR","titleFontSize":11,"tickSize":4,"labelPadding":8,"titlePadding":4}},"y":{"field":"v","type":"quantitative","scale":{"domain":[-0.5,0.5],"nice":false,"zero":false},"axis":{"orient":"left","values":[-0.4,-0.2,0,0.2,0.4],"tickCount":60,"format":".2f","labelExpr":"round(datum.value*10)%4==0 ? datum.label : ''","labelOverlap":false,"title":"°C","titleColor":"#000000","titlePadding":1}}}},
   {"data":{"name":"at_s"},"mark":{"type":"line","color":"#000000","strokeWidth":3},"encoding":{"x":{"field":"t","type":"quantitative","scale":{"domain":[1869.3,2011.2],"nice":false,"zero":false}},"y":{"field":"v","type":"quantitative","scale":{"domain":[-0.5,0.5],"nice":false,"zero":false}}}},
   {"data":{"name":"zero"},"mark":{"type":"rule","color":"#444","strokeWidth":1},"encoding":{"y":{"field":"v","type":"quantitative","scale":{"domain":[-0.5,0.5],"nice":false,"zero":false}}}}
  ]},
 {"width":410,"height":141.9,"data":{"name":"none"},"mark":"point"},
 {"width":410,"height":106,
  "title":{"text":"Sahel rainfall (summer)","color":"#0000ff","dx":7.4,"offset":14.8},
  "layer":[
   {"data":{"name":"sa_a"},"mark":{"type":"line","color":"#0000ff","strokeWidth":1,"strokeDash":[6,3]},"encoding":{"x":{"field":"t","type":"quantitative","scale":{"domain":[1869.3,2011.2],"nice":false,"zero":false},"axis":null},"y":{"field":"v","type":"quantitative","scale":{"domain":[-4,4],"nice":false,"zero":false},"axis":{"orient":"left","values":[-4,-3,-2,-1,0,1,2,3,4],"tickCount":60,"format":".1f","labelExpr":"round(datum.value)%2==0 ? datum.label : ''","labelOverlap":false,"title":"Normalised","titleColor":"#0000ff","titleFontSize":14.5,"titlePadding":11}}}},
   {"data":{"name":"sa_s"},"mark":{"type":"line","color":"#0000ff","strokeWidth":3},"encoding":{"x":{"field":"t","type":"quantitative","scale":{"domain":[1869.3,2011.2],"nice":false,"zero":false},"axis":null},"y":{"field":"v","type":"quantitative","scale":{"domain":[-4,4],"nice":false,"zero":false}}}},
   {"data":{"name":"zero"},"mark":{"type":"rule","color":"#444","strokeWidth":1},"encoding":{"y":{"field":"v","type":"quantitative","scale":{"domain":[-4,4],"nice":false,"zero":false}}}}
  ]},
 {"width":410,"height":11.7,"data":{"name":"none"},"mark":"point"},
 {"width":410,"height":105,
  "title":{"text":"Hurricane activity (ACE)","color":"#ff0000","dx":7.4,"offset":10.6},
  "layer":[
   {"data":{"name":"ac_a"},"mark":{"type":"line","color":"#ff0000","strokeWidth":1,"strokeDash":[6,3]},"encoding":{"x":{"field":"t","type":"quantitative","scale":{"domain":[1869.3,2011.2],"nice":false,"zero":false},"axis":null},"y":{"field":"v","type":"quantitative","scale":{"domain":[-4,4],"nice":false,"zero":false},"axis":{"orient":"right","values":[-4,-3,-2,-1,0,1,2,3,4],"tickCount":60,"format":".1f","labelExpr":"round(datum.value)%2==0 ? datum.label : ''","labelOverlap":false,"labelAlign":"right","labelPadding":31.4,"title":"Normalised","titleColor":"#ff0000","titleFontSize":14.5,"titlePadding":9}}}},
   {"data":{"name":"ac_s"},"mark":{"type":"line","color":"#ff0000","strokeWidth":3},"encoding":{"x":{"field":"t","type":"quantitative","scale":{"domain":[1869.3,2011.2],"nice":false,"zero":false},"axis":null},"y":{"field":"v","type":"quantitative","scale":{"domain":[-4,4],"nice":false,"zero":false}}}},
   {"data":{"name":"zero"},"mark":{"type":"rule","color":"#444","strokeWidth":1},"encoding":{"y":{"field":"v","type":"quantitative","scale":{"domain":[-4,4],"nice":false,"zero":false}}}}
  ]},
 {"width":410,"height":12.3,"data":{"name":"none"},"mark":"point"},
 {"width":410,"height":105,
  "title":{"text":"Atlantic sea surface temperature","color":"#000000","dx":-1.3,"offset":14.3},
  "layer":[
   {"data":{"name":"at_a"},"mark":{"type":"line","color":"#333333","strokeWidth":1,"strokeDash":[6,3]},"encoding":{"x":{"field":"t","type":"quantitative","scale":{"domain":[1869.3,2011.2],"nice":false,"zero":false},"axis":{"orient":"bottom","values":[1880,1900,1920,1940,1960,1980,2000],"tickCount":60,"format":"d","labelFontSize":14,"labelOverlap":false,"title":"YEAR","titleFontSize":11,"tickSize":4,"labelPadding":8,"titlePadding":4}},"y":{"field":"v","type":"quantitative","scale":{"domain":[-0.5,0.5],"nice":false,"zero":false},"axis":{"orient":"left","values":[-0.4,-0.2,0,0.2,0.4],"tickCount":60,"format":".2f","labelExpr":"round(datum.value*10)%4==0 ? datum.label : ''","labelOverlap":false,"title":"°C","titleColor":"#000000","titlePadding":2}}}},
   {"data":{"name":"at_s"},"mark":{"type":"line","color":"#000000","strokeWidth":3},"encoding":{"x":{"field":"t","type":"quantitative","scale":{"domain":[1869.3,2011.2],"nice":false,"zero":false}},"y":{"field":"v","type":"quantitative","scale":{"domain":[-0.5,0.5],"nice":false,"zero":false}}}},
   {"data":{"name":"zero"},"mark":{"type":"rule","color":"#444","strokeWidth":1},"encoding":{"y":{"field":"v","type":"quantitative","scale":{"domain":[-0.5,0.5],"nice":false,"zero":false}}}}
  ]},
 {"width":410,"height":141.1,"data":{"name":"none"},"mark":"point"},
 {"width":413.5,"height":106.7,
  "title":{"text":"NW American surface temperature – Full","subtitle":"(145–110W,30–65N)","color":"#0000ff","subtitleColor":"#0000ff","subtitleFont":"DejaVu Sans","subtitleFontSize":11.5,"subtitleFontWeight":"bold","subtitlePadding":4,"dx":6,"offset":-21},
  "layer":[
   {"data":{"name":"nw_a"},"mark":{"type":"line","color":"#0000ff","strokeWidth":1,"strokeDash":[6,3]},"encoding":{"x":{"field":"t","type":"quantitative","scale":{"domain":[1869.6,2012.3],"nice":false,"zero":false},"axis":null},"y":{"field":"v","type":"quantitative","scale":{"domain":[-2,2],"nice":false,"zero":false},"axis":{"orient":"left","values":[-2,-1.5,-1,-0.5,0,0.5,1,1.5,2],"tickCount":60,"format":".1f","labelOverlap":false,"title":"°C","titleColor":"#0000ff","titlePadding":12}}}},
   {"data":{"name":"nw_s"},"mark":{"type":"line","color":"#0000ff","strokeWidth":3},"encoding":{"x":{"field":"t","type":"quantitative","scale":{"domain":[1869.6,2012.3],"nice":false,"zero":false},"axis":null},"y":{"field":"v","type":"quantitative","scale":{"domain":[-2,2],"nice":false,"zero":false}}}},
   {"data":{"name":"zero"},"mark":{"type":"rule","color":"#444","strokeWidth":1},"encoding":{"y":{"field":"v","type":"quantitative","scale":{"domain":[-2,2],"nice":false,"zero":false}}}}
  ]},
 {"width":413.5,"height":12.8,"data":{"name":"none"},"mark":"point"},
 {"width":413.5,"height":99.3,
  "title":{"text":"NW American surface temperature – detrended","color":"#ff0000","dx":5.6,"offset":-1.4},
  "layer":[
   {"data":{"name":"nd_a"},"mark":{"type":"line","color":"#ff0000","strokeWidth":1,"strokeDash":[6,3]},"encoding":{"x":{"field":"t","type":"quantitative","scale":{"domain":[1869.6,2012.3],"nice":false,"zero":false},"axis":null},"y":{"field":"v","type":"quantitative","scale":{"domain":[-1.7,1.7],"nice":false,"zero":false},"axis":{"orient":"right","values":[-1.6667,-1.5,-1.3333,-1.1667,-1,-0.8333,-0.6667,-0.5,-0.3333,-0.1667,0,0.1667,0.3333,0.5,0.6667,0.8333,1,1.1667,1.3333,1.5,1.6667],"tickCount":60,"format":".1f","labelExpr":"round(datum.value*6)%3==0 ? datum.label : ''","labelOverlap":false,"labelAlign":"right","labelPadding":34.5,"title":"°C","titleColor":"#ff0000","titlePadding":6}}}},
   {"data":{"name":"nd_s"},"mark":{"type":"line","color":"#ff0000","strokeWidth":3},"encoding":{"x":{"field":"t","type":"quantitative","scale":{"domain":[1869.6,2012.3],"nice":false,"zero":false},"axis":null},"y":{"field":"v","type":"quantitative","scale":{"domain":[-1.7,1.7],"nice":false,"zero":false}}}},
   {"data":{"name":"zero"},"mark":{"type":"rule","color":"#444","strokeWidth":1},"encoding":{"y":{"field":"v","type":"quantitative","scale":{"domain":[-1.7,1.7],"nice":false,"zero":false}}}}
  ]},
 {"width":413.5,"height":19.9,"data":{"name":"none"},"mark":"point"},
 {"width":413.5,"height":104,
  "title":{"text":"Pacific Decadal Oscillation index","color":"#000000","dx":6.7,"offset":-2.0},
  "layer":[
   {"data":{"name":"pd_a"},"mark":{"type":"line","color":"#333333","strokeWidth":1,"strokeDash":[6,3]},"encoding":{"x":{"field":"t","type":"quantitative","scale":{"domain":[1869.6,2012.3],"nice":false,"zero":false},"axis":{"orient":"bottom","values":[1880,1900,1920,1940,1960,1980,2000],"tickCount":60,"format":"d","labelFontSize":14,"labelOverlap":false,"title":"YEAR","titleFontSize":11,"tickSize":4,"labelPadding":6,"titlePadding":2}},"y":{"field":"v","type":"quantitative","scale":{"domain":[-0.5,0.5],"nice":false,"zero":false},"axis":{"orient":"left","values":[-0.4,-0.2,0,0.2,0.4],"tickCount":60,"format":".2f","labelExpr":"round(datum.value*10)%4==0 ? datum.label : ''","labelOverlap":false,"title":"°C","titleColor":"#000000","titlePadding":3}}}},
   {"data":{"name":"pd_s"},"mark":{"type":"line","color":"#000000","strokeWidth":3},"encoding":{"x":{"field":"t","type":"quantitative","scale":{"domain":[1869.6,2012.3],"nice":false,"zero":false}},"y":{"field":"v","type":"quantitative","scale":{"domain":[-0.5,0.5],"nice":false,"zero":false}}}},
   {"data":{"name":"zero"},"mark":{"type":"rule","color":"#444","strokeWidth":1},"encoding":{"y":{"field":"v","type":"quantitative","scale":{"domain":[-0.5,0.5],"nice":false,"zero":false}}}}
  ]}
]
}
